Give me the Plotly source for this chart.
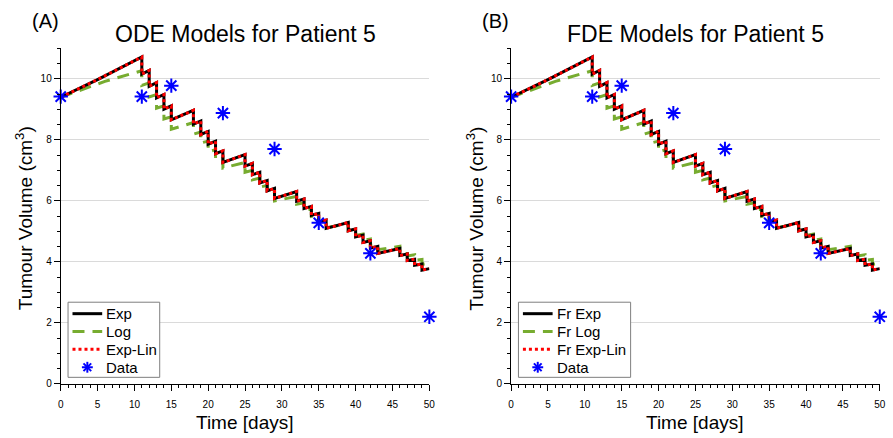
import plotly.graph_objects as go

# ---------------- data ----------------
model_days = [0, 1, 2, 3, 4, 5, 6, 7, 8, 9, 10, 11,
              11, 12, 12, 13, 13, 14, 14, 15, 15,
              18, 18, 19, 19, 20, 20, 21, 21, 22, 22,
              25, 25, 26, 26, 27, 27, 28, 28, 29, 29,
              32, 32, 33, 33, 34, 34, 35, 35, 36, 36,
              39, 39, 40, 40, 41, 41, 42, 42, 43, 43,
              46, 46, 47, 47, 48, 48, 49, 49, 50]

exp_vals = [9.40, 9.51, 9.63, 9.74, 9.86, 9.98, 10.10, 10.22, 10.34, 10.47, 10.59, 10.72,
            10.16, 10.28, 9.76, 9.88, 9.38, 9.49, 9.01, 9.12, 8.66,
            8.97, 8.52, 8.62, 8.18, 8.28, 7.86, 7.96, 7.55, 7.64, 7.26,
            7.52, 7.14, 7.23, 6.86, 6.94, 6.59, 6.67, 6.33, 6.41, 6.08,
            6.31, 5.99, 6.06, 5.75, 5.82, 5.53, 5.59, 5.31, 5.37, 5.10,
            5.29, 5.02, 5.08, 4.82, 4.88, 4.64, 4.69, 4.45, 4.51, 4.28,
            4.44, 4.21, 4.26, 4.05, 4.09, 3.89, 3.93, 3.73, 3.78]

log_vals = [9.40, 9.49, 9.58, 9.67, 9.76, 9.85, 9.92, 9.99, 10.06, 10.13, 10.20, 10.27,
            9.79, 9.87, 9.41, 9.49, 9.04, 9.12, 8.69, 8.76, 8.35,
            8.57, 8.19, 8.26, 7.90, 7.96, 7.61, 7.68, 7.34, 7.40, 7.08,
            7.26, 6.94, 7.00, 6.69, 6.75, 6.45, 6.51, 6.22, 6.27, 6.00,
            6.15, 5.89, 5.94, 5.69, 5.73, 5.49, 5.54, 5.30, 5.35, 5.12,
            5.25, 5.03, 5.08, 4.87, 4.91, 4.71, 4.75, 4.55, 4.59, 4.40,
            4.51, 4.33, 4.37, 4.19, 4.23, 4.05, 4.08, 3.92, 3.95]

explin_vals = [9.40, 9.51, 9.63, 9.74, 9.86, 9.98, 10.10, 10.22, 10.34, 10.47, 10.59, 10.72,
               10.16, 10.28, 9.76, 9.88, 9.38, 9.49, 9.01, 9.12, 8.66,
               8.97, 8.52, 8.62, 8.18, 8.28, 7.86, 7.96, 7.55, 7.64, 7.26,
               7.52, 7.14, 7.23, 6.86, 6.94, 6.59, 6.67, 6.33, 6.41, 6.08,
               6.31, 5.99, 6.06, 5.75, 5.82, 5.53, 5.59, 5.31, 5.37, 5.10,
               5.29, 5.02, 5.08, 4.82, 4.88, 4.64, 4.69, 4.45, 4.51, 4.28,
               4.44, 4.21, 4.26, 4.05, 4.09, 3.89, 3.93, 3.73, 3.78]

# FDE models (visually identical to the ODE fits)
fr_exp_vals = list(exp_vals)
fr_log_vals = list(log_vals)
fr_explin_vals = list(explin_vals)

data_days = [0, 11, 15, 22, 29, 35, 42, 50]
data_vals = [9.42, 9.42, 9.78, 8.88, 7.70, 5.28, 4.28, 2.20]

ode_names = ["Exp", "Log", "Exp-Lin", "Data"]
fde_names = ["Fr Exp", "Fr Log", "Fr Exp-Lin", "Data"]

# ---------------- style ----------------
BLACK = "#000000"
GREEN = "#77AC30"
RED = "#FF0000"
BLUE = "#0000FF"
FONT = "Liberation Sans, Arial, sans-serif"
GREEN_DASH = "12px,8px"
RED_DOT = "3px,3px"

W, H = 893, 438
fig = go.Figure()


def add_panel(xa, ya, names, ev, lv, elv):
    fig.add_trace(go.Scatter(x=model_days, y=lv, mode="lines", name=names[1],
                             line=dict(color=GREEN, width=3, dash=GREEN_DASH),
                             xaxis=xa, yaxis=ya))
    fig.add_trace(go.Scatter(x=model_days, y=ev, mode="lines", name=names[0],
                             line=dict(color=BLACK, width=3),
                             xaxis=xa, yaxis=ya))
    fig.add_trace(go.Scatter(x=model_days, y=elv, mode="lines", name=names[2],
                             line=dict(color=RED, width=3, dash=RED_DOT),
                             xaxis=xa, yaxis=ya))
    fig.add_trace(go.Scatter(x=data_days, y=data_vals, mode="markers", name=names[3],
                             marker=dict(symbol="asterisk-open", size=12,
                                         line=dict(color=BLUE, width=2), color=BLUE),
                             cliponaxis=False, xaxis=xa, yaxis=ya))


add_panel("x", "y", ode_names, exp_vals, log_vals, explin_vals)
add_panel("x2", "y2", fde_names, fr_exp_vals, fr_log_vals, fr_explin_vals)

ydom = [1 - 388.3 / H, 1 - 49.0 / H]
xdom1 = [58.3 / W, 430.7 / W]
xdom2 = [513.3 / W, 885.7 / W]

xcommon = dict(range=[0, 50], tick0=0, dtick=5, ticks="outside", ticklen=6,
               tickcolor=BLACK, tickwidth=1, showline=True, linecolor=BLACK,
               linewidth=1, showgrid=False, zeroline=False,
               tickfont=dict(size=10, color=BLACK, family=FONT),
               ticklabelstandoff=5,
               minor=dict(dtick=1, tick0=0, ticks="outside", ticklen=3,
                          tickcolor=BLACK, showgrid=False))
ycommon = dict(range=[0, 11], tick0=0, dtick=2, ticks="outside", ticklen=6,
               tickcolor=BLACK, tickwidth=1, showline=True, linecolor=BLACK,
               linewidth=1, showgrid=True, gridcolor="#dadada", gridwidth=1,
               zeroline=False,
               tickfont=dict(size=10, color=BLACK, family=FONT),
               minor=dict(dtick=0.5, tick0=0, ticks="outside", ticklen=3,
                          tickcolor=BLACK, showgrid=False))

fig.update_layout(
    width=W, height=H,
    margin=dict(l=0, r=0, t=0, b=0),
    paper_bgcolor="white", plot_bgcolor="white",
    font=dict(family=FONT, color=BLACK),
    showlegend=False,
    xaxis=dict(domain=xdom1, anchor="y", **xcommon),
    yaxis=dict(domain=ydom, anchor="x", **ycommon),
    xaxis2=dict(domain=xdom2, anchor="y2", **xcommon),
    yaxis2=dict(domain=ydom, anchor="x2", **ycommon),
)


def px(x):
    return x / W


def py(y):
    return 1 - y / H


anns = []
shapes = []
common = dict(xref="paper", yref="paper", showarrow=False,
              xanchor="center", yanchor="middle")

for off, tag, title, names, lx, box_w in [
        (0, "(A)", "ODE Models for Patient 5", ode_names, 65.7, 92.6),
        (455, "(B)", "FDE Models for Patient 5", fde_names, 520.7, 113.3)]:
    anns.append(dict(text=tag, x=px(42.5 + off), y=py(21),
                     font=dict(size=20, family=FONT, color=BLACK), **common))
    anns.append(dict(text=title, x=px(244.5 + off), y=py(34),
                     font=dict(size=23, family=FONT, color=BLACK), **common))
    anns.append(dict(text="Tumour Volume (cm<sup>3</sup>)", textangle=-90,
                     x=px(22 + off), y=py(221),
                     font=dict(size=19, family=FONT, color=BLACK), **common))
    anns.append(dict(text="Time [days]", x=px(244.5 + off), y=py(427),
                     font=dict(size=19, family=FONT, color=BLACK),
                     xref="paper", yref="paper", showarrow=False,
                     xanchor="center", yanchor="middle", borderpad=0))

    # legend box (entries drawn explicitly to match the reference spacing)
    shapes.append(dict(type="rect", xref="paper", yref="paper", layer="above",
                       x0=px(lx), x1=px(lx + box_w), y0=py(381.7), y1=py(305.7),
                       line=dict(color="#7f7f7f", width=1), fillcolor="white"))
    s0 = lx + 4.5
    s1 = s0 + 30
    rows = [317.3, 335.3, 353.3, 371.5]
    shapes.append(dict(type="line", xref="paper", yref="paper", layer="above",
                       x0=px(s0), x1=px(s1), y0=py(rows[0]), y1=py(rows[0]),
                       line=dict(color=BLACK, width=3)))
    shapes.append(dict(type="line", xref="paper", yref="paper", layer="above",
                       x0=px(s0), x1=px(s1), y0=py(rows[1]), y1=py(rows[1]),
                       line=dict(color=GREEN, width=3, dash=GREEN_DASH)))
    shapes.append(dict(type="line", xref="paper", yref="paper", layer="above",
                       x0=px(s0), x1=px(s1), y0=py(rows[2]), y1=py(rows[2]),
                       line=dict(color=RED, width=3, dash=RED_DOT)))
    cx, cy, r = (s0 + s1) / 2, rows[3], 5.5
    for dx, dy in [(r, 0), (0, r), (r * 0.707, r * 0.707), (r * 0.707, -r * 0.707)]:
        shapes.append(dict(type="line", xref="paper", yref="paper", layer="above",
                           x0=px(cx - dx), x1=px(cx + dx), y0=py(cy - dy), y1=py(cy + dy),
                           line=dict(color=BLUE, width=2)))
    for name, ry in zip(names, rows):
        anns.append(dict(text=name, x=px(s1 + 2), y=py(ry), xref="paper", yref="paper",
                         showarrow=False, xanchor="left", yanchor="middle",
                         font=dict(size=15, family=FONT, color=BLACK)))

fig.update_layout(annotations=anns, shapes=shapes)

fig.write_html("out.html")
